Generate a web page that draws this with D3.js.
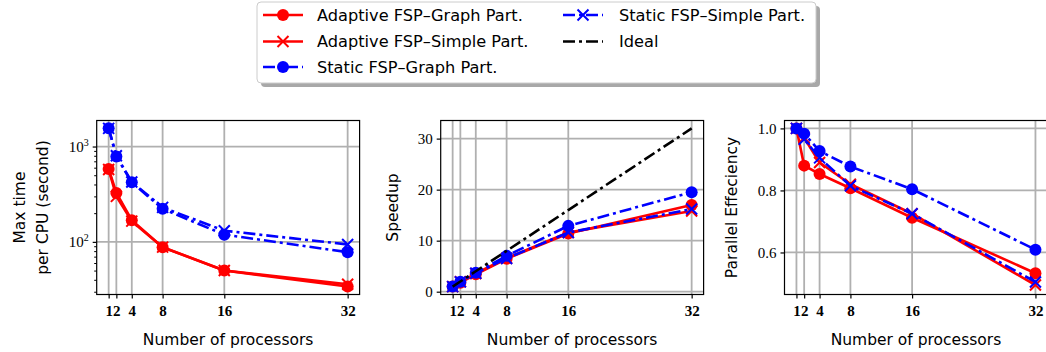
<!DOCTYPE html>
<html><head><meta charset="utf-8">
<script src="https://cdn.jsdelivr.net/npm/d3@7"></script>
<style>body{margin:0;background:#fff}svg{display:block}</style>
</head><body>
<svg id="c" width="1046" height="352"></svg>
<script>
const procs = [1, 2, 4, 8, 16, 32];
const xTickLabels = ["1", "2", "4", "8", "16", "32"];
const seriesNames = ["Adaptive FSP\u2013Graph Part.", "Adaptive FSP\u2013Simple Part.", "Static FSP\u2013Graph Part.", "Static FSP\u2013Simple Part.", "Ideal"];

// Max time per CPU (seconds)
const timeAdaptiveGraph  = [581, 326, 169, 88, 50, 34];
const timeAdaptiveSimple = [575, 300, 165, 88, 50, 36];
const timeStaticGraph    = [1557, 786, 421, 222, 119, 78];
const timeStaticSimple   = [1550, 800, 425, 230, 131, 94];

// Speedup
const spAdaptiveGraph  = [1, 1.76, 3.42, 6.46, 11.4, 17.0];
const spAdaptiveSimple = [1, 1.94, 3.56, 6.56, 11.6, 15.8];
const spStaticGraph    = [1, 1.97, 3.71, 7.02, 12.9, 19.5];
const spStaticSimple   = [1, 1.93, 3.62, 6.52, 11.6, 16.2];
const spIdeal          = [1, 2, 4, 8, 16, 32];

// Parallel efficiency
const effAdaptiveGraph  = [1, 0.88, 0.853, 0.807, 0.712, 0.533];
const effAdaptiveSimple = [1, 0.97, 0.89, 0.82, 0.725, 0.495];
const effStaticGraph    = [1, 0.983, 0.927, 0.877, 0.804, 0.609];
const effStaticSimple   = [1, 0.965, 0.905, 0.815, 0.725, 0.505];

const timeTicks = [100, 1000];
const speedupTicks = [0, 10, 20, 30];
const effTicks = [0.6, 0.8, 1.0];

const svg = d3.select("#c");
const SERIF = "'Liberation Serif', 'DejaVu Serif', serif";
const SANS = "'DejaVu Sans', sans-serif";
const styles = [
  {color: "#ff0000", dash: null, marker: "o"},
  {color: "#ff0000", dash: null, marker: "x"},
  {color: "#0000ff", dash: "12,4,3,4", marker: "o"},
  {color: "#0000ff", dash: "12,4,3,4", marker: "x"},
  {color: "#000000", dash: "12,4,3,4", marker: null}
];
const LW = 2.6, R = 6, XS = 5.5;

function drawMarker(g, type, x, y, color) {
  if (type === "o") {
    g.append("circle").attr("cx", x).attr("cy", y).attr("r", R).attr("fill", color);
  } else if (type === "x") {
    g.append("path").attr("d", `M${x-XS},${y-XS}L${x+XS},${y+XS}M${x-XS},${y+XS}L${x+XS},${y-XS}`)
      .attr("stroke", color).attr("stroke-width", 2).attr("fill", "none");
  }
}

const plotTop = 120.5, plotBottom = 294.5;

function panel(left, right, y, series, yTicks, yTickFmt, yLabelLines, isLog) {
  const x = d3.scaleLinear().domain([-0.55, 33.55]).range([left, right]);
  const g = svg.append("g");
  const gclip = "gclip" + Math.round(left);
  svg.append("clipPath").attr("id", gclip).append("rect")
    .attr("x", left).attr("y", plotTop).attr("width", right - left).attr("height", plotBottom - plotTop);
  // grid
  const grid = g.append("g").attr("clip-path", `url(#${gclip})`);
  procs.forEach(p => grid.append("line").attr("x1", x(p)).attr("x2", x(p)).attr("y1", plotTop).attr("y2", plotBottom)
    .attr("stroke", "#b0b0b0").attr("stroke-width", 1.8));
  yTicks.forEach(t => grid.append("line").attr("x1", left).attr("x2", right).attr("y1", y(t)).attr("y2", y(t))
    .attr("stroke", "#b0b0b0").attr("stroke-width", 1.8));
  // data
  const data = g.append("g");
  series.forEach(s => {
    const st = styles[s.style];
    const line = d3.line().x((d, i) => x(procs[i])).y(d => y(d));
    data.append("path").attr("d", line(s.values)).attr("fill", "none")
      .attr("stroke", st.color).attr("stroke-width", LW)
      .attr("stroke-dasharray", st.dash).attr("stroke-linejoin", "round");
    if (st.marker) s.values.forEach((v, i) => drawMarker(data, st.marker, x(procs[i]), y(v), st.color));
  });
  // spines
  g.append("rect").attr("x", left).attr("y", plotTop).attr("width", right - left).attr("height", plotBottom - plotTop)
    .attr("fill", "none").attr("stroke", "#000").attr("stroke-width", 1.2);
  // x ticks
  const xa = g.append("g").attr("transform", `translate(0,${plotBottom})`)
    .call(d3.axisBottom(x).tickValues(procs).tickFormat((d, i) => xTickLabels[i]).tickSize(4).tickSizeOuter(0));
  xa.select(".domain").remove();
  xa.selectAll("line").attr("stroke-width", 1.2);
  xa.selectAll("text").attr("font-family", SERIF).attr("font-size", 15).attr("font-weight", "bold").attr("dy", "0.95em");
  // y ticks
  const ya = g.append("g").attr("transform", `translate(${left},0)`);
  if (isLog) {
    const minor = [20,30,40,50,60,70,80,90,200,300,400,500,600,700,800,900,2000];
    ya.call(d3.axisLeft(y).tickValues(minor).tickFormat("").tickSize(2.5).tickSizeOuter(0));
    ya.selectAll(".tick").filter(d => y(d) < plotTop - 0.5 || y(d) > plotBottom + 0.5).remove();
    ya.select(".domain").remove();
    ya.selectAll("line").attr("stroke-width", 1);
    const yb = g.append("g").attr("transform", `translate(${left},0)`)
      .call(d3.axisLeft(y).tickValues(yTicks).tickFormat("").tickSize(4).tickSizeOuter(0));
    yb.select(".domain").remove();
    yb.selectAll("line").attr("stroke-width", 1.2);
    yTicks.forEach(t => {
      const tx = g.append("text").attr("x", left - 8).attr("y", y(t)).attr("dy", "0.35em")
        .attr("text-anchor", "end").attr("font-family", SERIF).attr("font-size", 15);
      tx.append("tspan").text("10");
      tx.append("tspan").attr("font-size", 10).attr("dy", "-0.6em").text(String(Math.round(Math.log10(t))));
    });
  } else {
    ya.call(d3.axisLeft(y).tickValues(yTicks).tickFormat(yTickFmt).tickSize(4).tickSizeOuter(0));
    ya.select(".domain").remove();
    ya.selectAll("line").attr("stroke-width", 1.2);
    ya.selectAll("text").attr("font-family", SERIF).attr("font-size", 15).attr("x", -8);
  }
  // labels
  g.append("text").attr("x", (left + right) / 2).attr("y", 345).attr("text-anchor", "middle")
    .attr("font-family", SANS).attr("font-size", 15.5).text("Number of processors");
  const cy = (plotTop + plotBottom) / 2;
  yLabelLines.forEach(ln => {
    g.append("text").attr("transform", `translate(${ln.x},${cy}) rotate(-90)`).attr("text-anchor", "middle")
      .attr("dy", "0.35em").attr("font-family", SANS).attr("font-size", 15.5).text(ln.t);
  });
}

// Panel 1: time (log)
const y1 = d3.scaleLog().domain([Math.pow(10, 1.448), Math.pow(10, 3.273)]).range([plotBottom, plotTop]);
panel(96.7, 359.6, y1, [
  {values: timeAdaptiveGraph, style: 0},
  {values: timeAdaptiveSimple, style: 1},
  {values: timeStaticGraph, style: 2},
  {values: timeStaticSimple, style: 3}
], timeTicks, null, [{t: "Max time", x: 20}, {t: "per CPU (second)", x: 43}], true);

// Panel 2: speedup
const y2 = d3.scaleLinear().domain([-0.55, 33.55]).range([plotBottom, plotTop]);
panel(440.7, 703.6, y2, [
  {values: spAdaptiveGraph, style: 0},
  {values: spAdaptiveSimple, style: 1},
  {values: spStaticGraph, style: 2},
  {values: spStaticSimple, style: 3},
  {values: spIdeal, style: 4}
], speedupTicks, d3.format("d"), [{t: "Speedup", x: 393}], false);

// Panel 3: efficiency
const y3 = d3.scaleLinear().domain([0.4645, 1.0255]).range([plotBottom, plotTop]);
panel(784.5, 1047.4, y3, [
  {values: effAdaptiveGraph, style: 0},
  {values: effAdaptiveSimple, style: 1},
  {values: effStaticGraph, style: 2},
  {values: effStaticSimple, style: 3}
], effTicks, d3.format(".1f"), [{t: "Parallel Effeciency", x: 732}], false);

// Legend
const lg = svg.append("g");
lg.append("rect").attr("x", 261).attr("y", 6).attr("width", 559).attr("height", 81).attr("rx", 4)
  .attr("fill", "#a8a8a8");
lg.append("rect").attr("x", 257).attr("y", 2).attr("width", 559).attr("height", 81).attr("rx", 4)
  .attr("fill", "#fff").attr("stroke", "#cccccc").attr("stroke-width", 1);
const legendPos = [
  {hx: 263, tx: 317, y: 15},
  {hx: 263, tx: 317, y: 41.5},
  {hx: 263, tx: 317, y: 67},
  {hx: 563, tx: 619, y: 15},
  {hx: 563, tx: 619, y: 41.5}
];
seriesNames.forEach((name, i) => {
  const p = legendPos[i], st = styles[i];
  lg.append("line").attr("x1", p.hx).attr("x2", p.hx + 40).attr("y1", p.y).attr("y2", p.y)
    .attr("stroke", st.color).attr("stroke-width", LW).attr("stroke-dasharray", st.dash);
  if (st.marker) drawMarker(lg, st.marker, p.hx + 20, p.y, st.color);
  lg.append("text").attr("x", p.tx).attr("y", p.y).attr("dy", "0.35em")
    .attr("font-family", SANS).attr("font-size", 16.2).text(name);
});
</script>
</body></html>
